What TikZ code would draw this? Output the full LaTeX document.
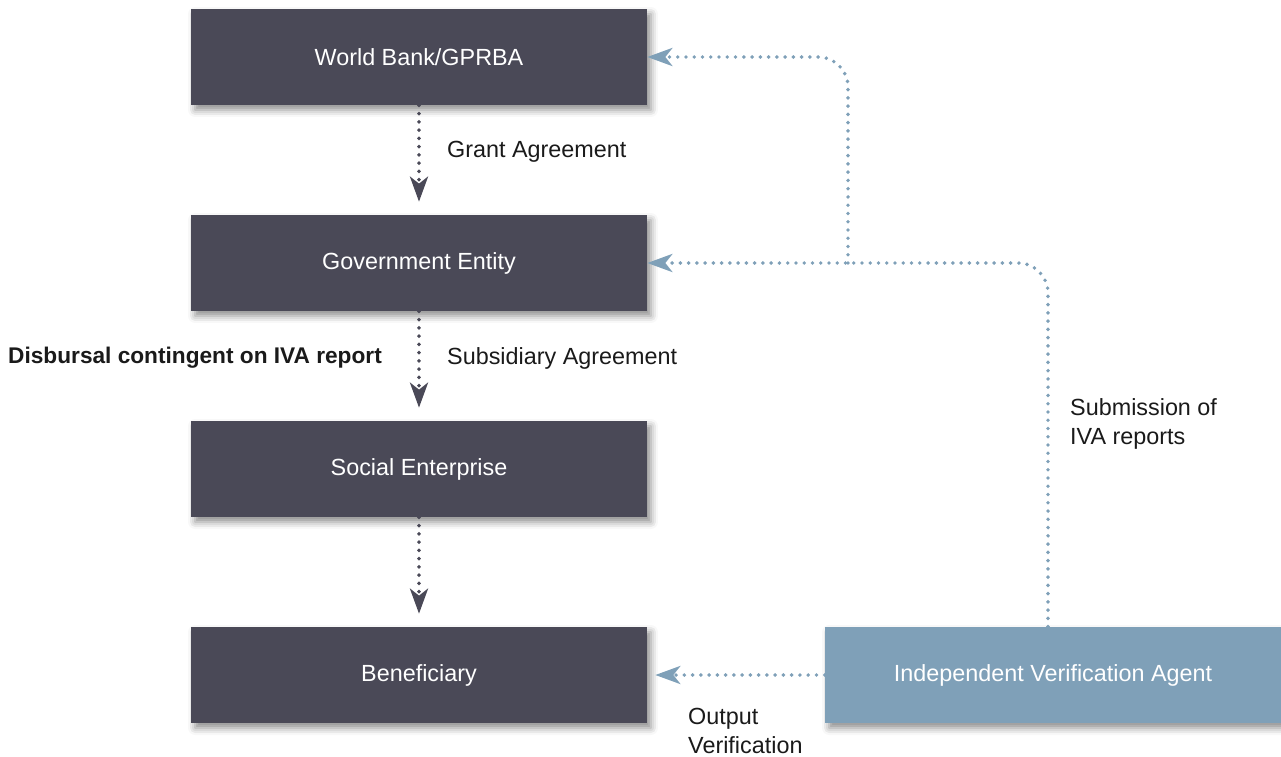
\documentclass[tikz,border=0pt]{standalone}
\usepackage{fontspec}
\setmainfont{Liberation Sans}
\usetikzlibrary{arrows.meta,shadows.blur}
\definecolor{boxdark}{HTML}{4A4957}
\definecolor{boxblue}{HTML}{7FA0B8}
\definecolor{labeltext}{HTML}{1A1A1A}
\tikzset{
  entity/.style={fill=boxdark, text=white, minimum width=9.12cm, minimum height=1.92cm,
    font=\fontsize{13.3}{16}\selectfont,
    blur shadow={shadow xshift=0.08cm, shadow yshift=-0.1cm, shadow blur radius=0.14cm, shadow opacity=45}},
  agent/.style={entity, fill=boxblue},
  flow/.style={draw=boxdark, line width=2.2pt, line cap=round, dash pattern=on 0pt off 4.7pt,
    -{Stealth[length=0.5cm, width=0.36cm, inset=0.14cm]}},
  report/.style={flow, draw=boxblue, rounded corners=0.6cm},
  lbl/.style={text=labeltext, font=\fontsize{13.3}{16}\selectfont, align=left}
}
\begin{document}
\begin{tikzpicture}[x=0.02cm,y=-0.02cm]
    \useasboundingbox (0,0) rectangle (1281,757);
    % boxes
    \node[entity] (wb) at (419,57) {World Bank/GPRBA};
    \node[entity] (ge) at (419,263) {Government Entity};
    \node[entity] (se) at (419,469) {Social Enterprise};
    \node[entity] (ben) at (419,675) {Beneficiary};
    \node[agent] (iva) at (1053,675) {Independent Verification Agent};
    \coordinate (split) at (848,263);
    % funding chain
    \draw[flow, shorten >=0.26cm] (wb) -- (ge);
    \draw[flow, shorten >=0.26cm] (ge) -- (se);
    \draw[flow, shorten >=0.26cm] (se) -- (ben);
    \node[lbl, anchor=west] (grant) at (441,152) {Grant Agreement};
    \node[lbl, anchor=west] (subs) at (441,358) {Subsidiary Agreement};
    \node[lbl, anchor=east, font=\fontsize{12.9}{16}\selectfont\bfseries] (disb) at (388,358) {Disbursal contingent on IVA report};
    % verification reports
    \draw[report] ([xshift=-0.1cm]iva.north) |- (ge.east);
    \draw[report] (split) |- (wb.east);
    \draw[report, shorten >=0.16cm] (iva) -- (ben);
    \node[lbl, anchor=west] (subm) at (1064,424) {Submission of\\IVA reports};
    \node[lbl, anchor=west] (outv) at (682,731) {Output\\Verification};
\end{tikzpicture}
\end{document}
